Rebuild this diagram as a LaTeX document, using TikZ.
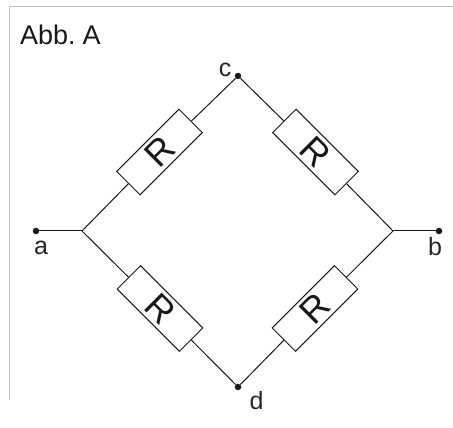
\documentclass[tikz,border=0pt]{standalone}
\usepackage{fontspec}
\setmainfont{Liberation Sans}
\usetikzlibrary{positioning}
\definecolor{framegray}{gray}{0.75}
\tikzset{
    pin/.style={circle,fill=black!90,inner sep=0pt,minimum size=6.5pt},
    resistor/.style={draw,line width=1pt,black!90,minimum width=88pt,minimum height=33pt,inner sep=0pt,font=\fontsize{36}{36}\selectfont},
    wire/.style={line width=1pt,black!90},
    pinlabel/.style={inner sep=0pt,font=\fontsize{25}{25}\selectfont,text=black!85}
}
\begin{document}
\begin{tikzpicture}[x=1pt,y=1pt]
\useasboundingbox (0,0) rectangle (453,428);
\draw[framegray,line width=1pt] (453,421) -- (9,421) -- (9,28);
\node[inner sep=0pt,anchor=base west,font=\fontsize{27}{27}\selectfont,text=black!90] (title) at (20,383) {Abb.\hspace{-3pt} A};

\node[pin] (a) at (36,197) {};
\node[pin] (b) at (439,197) {};
\node[pin] (c) at (238,352) {};
\node[pin] (d) at (238,41) {};
\coordinate (left) at (82,197);
\coordinate (right) at (393,197);

\node[resistor,rotate=45] (ac) at (159.5,276) {R};
\node[resistor,rotate=-45] (bc) at (315.5,276) {R};
\node[resistor,rotate=-45] (ad) at (160,119.5) {R};
\node[resistor,rotate=45] (bd) at (315,119.5) {R};

\foreach \from/\to in {a/left, left/ac, ac/c, left/ad, ad/d, b/right, right/bc, bc/c, right/bd, bd/d} {
    \draw[wire] (\from) -- (\to);
}
\node[pinlabel,above left=-3pt and 4pt of c] (clabel) {c};
\node[pinlabel,below=6pt of a,xshift=5pt] (alabel) {a};
\node[pinlabel,below=3pt of b,xshift=-4pt] (blabel) {b};
\node[pinlabel,below right=2pt and 9pt of d] (dlabel) {d};
\end{tikzpicture}
\end{document}
